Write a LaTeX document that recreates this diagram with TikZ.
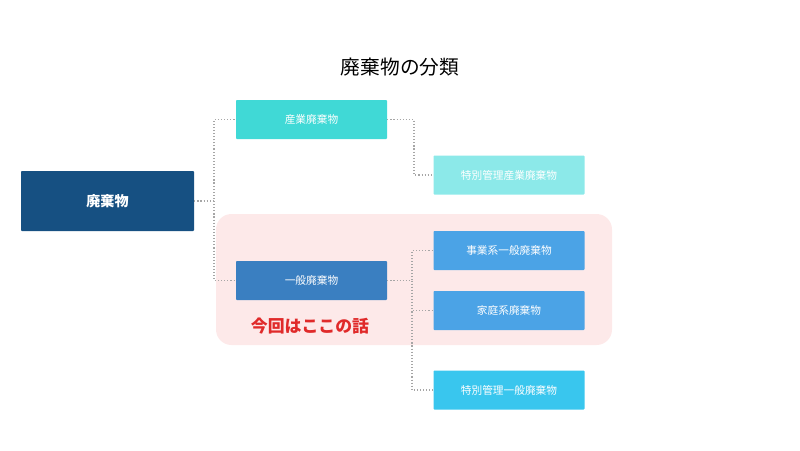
\documentclass[tikz,border=0pt]{standalone}
\usepackage{fontspec}
\setmainfont{Noto Sans CJK JP}
\usetikzlibrary{calc}
\definecolor{rootblue}{HTML}{165082}
\definecolor{indcyan}{HTML}{40D9D6}
\definecolor{indlight}{HTML}{8CE9E9}
\definecolor{genblue}{HTML}{3A7FC1}
\definecolor{subblue}{HTML}{4BA3E6}
\definecolor{spcyan}{HTML}{39C6EE}
\definecolor{focuspink}{HTML}{FDE9E9}
\definecolor{focusred}{HTML}{E02A2A}

\begin{document}
\begin{tikzpicture}[x=0.025cm, y=-0.025cm,
		box/.style={inner sep=0pt, text=white, minimum width=151*0.025cm, minimum height=39*0.025cm,
			rounded corners=0.6pt, font=\fontsize{7.6}{9}\selectfont},
		conn/.style={gray!70, line width=0.8pt, dash pattern=on 0.8pt off 1.4pt}]
		
		\useasboundingbox (0,0) rectangle (800,450);
		
		% ---------- Title ----------
		\node[font=\fontsize{14}{16}\selectfont] (title) at (400,67) {廃棄物の分類};
		
		% ---------- Focus region ----------
		\fill[focuspink, rounded corners=11pt] (216,214) rectangle (612,345);
		\node[text=focusred, font=\fontsize{12}{14}\selectfont\bfseries] (focus) at (310,326) {今回はここの話};
		
		% ---------- Boxes ----------
		\node[box, fill=rootblue, minimum width=173*0.025cm, minimum height=60*0.025cm,
			font=\fontsize{10}{12}\selectfont\bfseries] (waste) at (107.5,201) {廃棄物};
		\node[box, fill=indcyan] (ind) at (311.5,119.5) {産業廃棄物};
		\node[box, fill=indlight] (indsp) at (509,175) {特別管理産業廃棄物};
		\node[box, fill=genblue] (gen) at (311.5,280.5) {一般廃棄物};
		\node[box, fill=subblue] (biz) at (509,250.5) {事業系一般廃棄物};
		\node[box, fill=subblue] (home) at (509,310.5) {家庭系廃棄物};
		\node[box, fill=spcyan] (gensp) at (509,390) {特別管理一般廃棄物};
		
		% ---------- Dotted connectors ----------
		\coordinate (j1) at (214,201);
		\coordinate (j2) at (414,119.5);
		\coordinate (j3) at (412,280.5);
		\draw[conn] (waste.east) -- (j1) |- (ind.west);
		\draw[conn] (j1) |- (gen.west);
		\draw[conn] (ind.east) -- (j2) |- (indsp.west);
		\draw[conn] (gen.east) -- (j3) |- (biz.west);
		\draw[conn] (j3) |- (home.west);
		\draw[conn] (j3) |- (gensp.west);
		
\end{tikzpicture}
\end{document}
